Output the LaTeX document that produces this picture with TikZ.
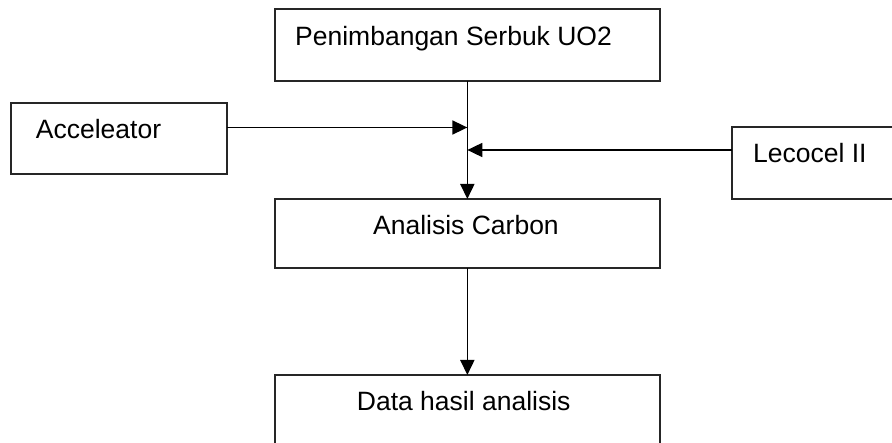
\documentclass[tikz,border=0pt]{standalone}
\usepackage{fontspec}
\setmainfont{Liberation Sans}
\usetikzlibrary{arrows.meta}
\begin{document}
\begin{tikzpicture}[x=1pt,y=-1pt,
  box/.style={draw=black!85,line width=1.7pt,rectangle,inner sep=0pt,outer sep=0pt},
  txt/.style={anchor=base west,inner sep=0pt,font=\fontsize{26.5}{30}\selectfont},
  conn/.style={line width=1.7pt,-{Triangle[length=15pt,width=14pt]}}]
\clip (0,0) rectangle (892,443);
\fill[white] (0,0) rectangle (892,443);
\node[box,minimum width=385.3pt,minimum height=72pt] (b1) at (467.35,45) {};
\node[box,minimum width=216pt,minimum height=71.3pt] (acc) at (119,138.35) {};
\node[box,minimum width=168.3pt,minimum height=72pt] (lec) at (815.85,163.3) {};
\node[box,minimum width=385.3pt,minimum height=69.3pt] (ac) at (467.35,233.65) {};
\node[box,minimum width=385.3pt,minimum height=85pt] (data) at (467.35,417.5) {};
\node[txt] (t1) at (295,45.5) {Penimbangan Serbuk UO2};
\node[txt] (t2) at (35.7,139) {Acceleator};
\node[txt] (t3) at (753,162.5) {Lecocel II};
\node[txt] (t4) at (373,235) {Analisis Carbon};
\node[txt] (t5) at (356.7,410.5) {Data hasil analisis};
\coordinate (j1) at (467.35,127.5);
\coordinate (j2) at (467.35,150);
\draw[conn] (b1.south) -- (ac.north);
\draw[conn] (acc.east |- j1) -- (j1);
\draw[conn] (lec.west |- j2) -- (j2);
\draw[conn] (ac.south) -- (data.north);
\end{tikzpicture}
\end{document}
